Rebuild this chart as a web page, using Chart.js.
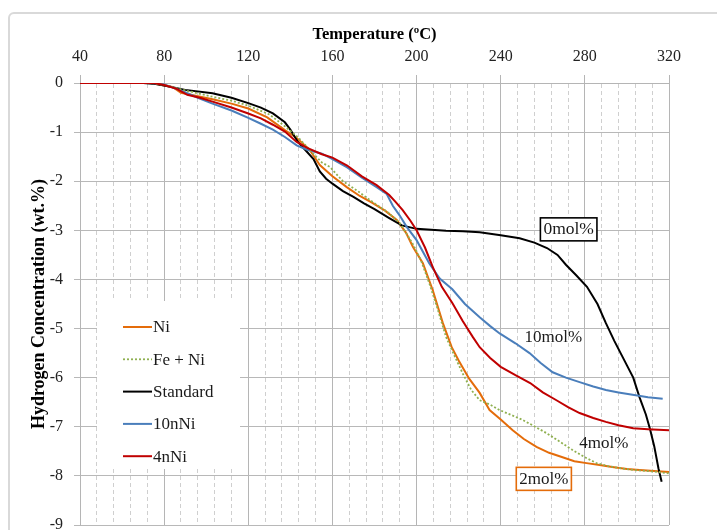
<!DOCTYPE html>
<html>
<head>
<meta charset="utf-8">
<script src="https://cdn.jsdelivr.net/npm/chart.js@4"></script>
<style>
html,body{margin:0;padding:0;background:#fff;}
#wrap{width:717px;height:530px;position:relative;}
</style>
</head>
<body>
<div id="wrap"><canvas id="c" width="717" height="530"></canvas></div>
<script>
// ---- data ----
const seriesNames = ["Ni", "Fe + Ni", "Standard", "10nNi", "4nNi"];

const tempNi = [40, 74, 80, 84, 88, 95, 103, 112, 120, 129, 137.4, 143, 149, 154, 160, 166.8, 173, 179, 185, 190.6, 195, 198.3, 203, 207.7, 212.5, 216.7, 220, 225, 230, 234.7, 240, 245.7, 251, 257, 263, 269.4, 275, 280.8, 287, 293, 300, 306, 313, 320];
const concNi = [0, 0, -0.05, -0.08, -0.2, -0.26, -0.33, -0.42, -0.52, -0.7, -0.96, -1.12, -1.35, -1.67, -1.9, -2.12, -2.3, -2.44, -2.6, -2.79, -3.05, -3.34, -3.67, -4.22, -4.89, -5.38, -5.65, -6.02, -6.31, -6.66, -6.85, -7.07, -7.25, -7.41, -7.53, -7.62, -7.7, -7.74, -7.78, -7.82, -7.86, -7.88, -7.9, -7.92];

const tempFeNi = [40, 74, 80, 90, 103, 112, 120, 130, 137.4, 144, 150, 155, 158.8, 165, 172, 180, 186, 192, 198, 202, 206, 210, 214, 218, 222, 226, 230, 235, 239.5, 245, 250.4, 256, 261.8, 268, 274, 280, 285.5, 291, 296.5, 303, 309.3, 315, 320];
const concFeNi = [0, 0, -0.04, -0.15, -0.28, -0.36, -0.46, -0.64, -0.88, -1.12, -1.4, -1.62, -1.71, -2.0, -2.2, -2.45, -2.62, -2.85, -3.26, -3.6, -4.07, -4.6, -5.17, -5.55, -5.92, -6.25, -6.46, -6.55, -6.66, -6.76, -6.86, -6.99, -7.13, -7.3, -7.47, -7.62, -7.74, -7.8, -7.84, -7.88, -7.9, -7.92, -7.95];

const tempStd = [40, 70, 76, 80, 90, 103, 112, 120, 126, 131.7, 137.4, 140, 143.6, 147, 151, 154, 157, 160, 165, 170, 175, 180, 187, 193, 200, 207, 214, 222, 230, 240, 249, 256, 262, 267, 271, 276, 281, 286, 290, 294, 297, 300, 303, 306, 309, 311, 313, 315, 316.5];
const concStd = [0, 0, -0.02, -0.05, -0.14, -0.21, -0.3, -0.41, -0.5, -0.62, -0.8, -0.95, -1.2, -1.36, -1.55, -1.8, -1.95, -2.05, -2.2, -2.32, -2.45, -2.57, -2.75, -2.9, -2.97, -2.99, -3.01, -3.02, -3.04, -3.1, -3.16, -3.25, -3.36, -3.5, -3.7, -3.92, -4.15, -4.5, -4.89, -5.25, -5.5, -5.75, -6.0, -6.4, -6.75, -7.05, -7.4, -7.85, -8.12];

const temp10nNi = [40, 74, 80, 88, 96, 103, 112, 120, 126, 131.7, 137.4, 143, 148, 155, 160, 167, 174, 181, 185.8, 188.7, 192, 195.3, 200, 206, 211, 217, 223, 230, 235, 239.5, 247, 253.7, 259, 264.7, 271, 277.5, 284, 290, 296, 302.7, 310, 317];
const conc10nNi = [0, 0, -0.03, -0.15, -0.3, -0.42, -0.56, -0.71, -0.83, -0.95, -1.1, -1.27, -1.36, -1.44, -1.55, -1.72, -1.93, -2.12, -2.26, -2.5, -2.7, -2.93, -3.2, -3.67, -3.98, -4.2, -4.5, -4.77, -4.95, -5.1, -5.3, -5.5, -5.7, -5.89, -6.0, -6.09, -6.18, -6.25, -6.3, -6.35, -6.4, -6.43];

const temp4nNi = [40, 75, 80, 86, 91, 97, 103, 112, 120, 126, 131.7, 137.4, 143, 148, 155, 160, 167, 174, 181, 187, 190, 193.4, 197, 200, 204, 207.7, 212, 217, 222, 226.7, 230, 235, 240, 247, 254, 260, 266.5, 272, 277.5, 284, 290, 296, 303, 310, 320];
const conc4nNi = [0, 0, -0.04, -0.12, -0.24, -0.3, -0.38, -0.5, -0.62, -0.72, -0.85, -0.99, -1.2, -1.32, -1.45, -1.52, -1.68, -1.9, -2.08, -2.28, -2.42, -2.59, -2.8, -3.0, -3.35, -3.75, -4.15, -4.48, -4.85, -5.17, -5.38, -5.6, -5.78, -5.95, -6.11, -6.3, -6.46, -6.6, -6.72, -6.82, -6.9, -6.97, -7.03, -7.05, -7.07];

const xTicksMajor = [40, 80, 120, 160, 200, 240, 280, 320];
const yTicks = [0, -1, -2, -3, -4, -5, -6, -7, -8, -9];

// annotation labels (text, anchor temperature, anchor concentration)
const noteText = ["0mol%", "10mol%", "4mol%", "2mol%"];
const noteTemp = [272.3, 265, 289, 260.5];
const noteConc = [-2.97, -5.17, -7.33, -8.05];

// ---- styling ----
const SERIF = '"Liberation Serif", "Times New Roman", serif';
const colors = ["#E46C0A", "#8FB050", "#000000", "#4A7EBB", "#C00000"];

function pts(xs, ys) { return xs.map((x, i) => ({x: x, y: ys[i]})); }

const datasets = [
  {label: seriesNames[0], data: pts(tempNi, concNi), borderColor: colors[0], borderWidth: 2, order: 5},
  {label: seriesNames[1], data: pts(tempFeNi, concFeNi), borderColor: colors[1], borderWidth: 1.8, borderDash: [2, 2], order: 2},
  {label: seriesNames[2], data: pts(tempStd, concStd), borderColor: colors[2], borderWidth: 2, order: 4},
  {label: seriesNames[3], data: pts(temp10nNi, conc10nNi), borderColor: colors[3], borderWidth: 2, order: 3},
  {label: seriesNames[4], data: pts(temp4nNi, conc4nNi), borderColor: colors[4], borderWidth: 2, order: 1}
];
datasets.forEach(d => { d.pointRadius = 0; d.tension = 0; d.fill = false; d.backgroundColor = d.borderColor; });

const isMajor = v => xTicksMajor.indexOf(Math.round(v)) >= 0;

const framePlugin = {
  id: 'frame',
  beforeDraw(chart) {
    const ctx = chart.ctx;
    ctx.save();
    ctx.fillStyle = '#fff';
    ctx.fillRect(0, 0, chart.width, chart.height);
    ctx.strokeStyle = '#d9d9d9';
    ctx.lineWidth = 2;
    ctx.beginPath();
    ctx.moveTo(9, 540); ctx.lineTo(9, 18);
    ctx.arcTo(9, 13, 14, 13, 5);
    ctx.lineTo(730, 13);
    ctx.stroke();
    ctx.restore();
  }
};

const legendBoxPlugin = {
  id: 'legendBox',
  beforeDatasetsDraw(chart) {
    const ctx = chart.ctx;
    const x0 = 97, y0 = 301, w = 143, h = 168;
    ctx.save();
    ctx.fillStyle = '#fff';
    ctx.fillRect(x0, y0, w, h);
    ctx.font = '17px ' + SERIF;
    ctx.textBaseline = 'middle';
    ctx.textAlign = 'left';
    chart.data.datasets.forEach((d, i) => {
      const y = 327 + i * 32.3;
      ctx.strokeStyle = d.borderColor;
      ctx.lineWidth = d.borderWidth;
      ctx.setLineDash(d.borderDash || []);
      ctx.beginPath();
      ctx.moveTo(123, y); ctx.lineTo(152, y);
      ctx.stroke();
      ctx.setLineDash([]);
      ctx.fillStyle = '#1a1a1a';
      ctx.fillText(d.label, 153, y + 1);
    });
    ctx.restore();
  }
};

const notesPlugin = {
  id: 'notes',
  afterDatasetsDraw(chart) {
    const ctx = chart.ctx;
    const xs = chart.scales.x, ys = chart.scales.y;
    ctx.save();
    noteText.forEach((t, i) => {
      const cx = xs.getPixelForValue(noteTemp[i]);
      const cy = ys.getPixelForValue(noteConc[i]);
      ctx.font = (i === 0 ? '17.5px ' : '17px ') + SERIF;
      const tw = ctx.measureText(t).width;
      if (i === 0 || i === 3) {
        const bx = cx - tw / 2 - 3, by = cy - 11, bw = tw + 6, bh = 23;
        ctx.fillStyle = '#fff';
        ctx.fillRect(bx, by, bw, bh);
        ctx.strokeStyle = i === 0 ? '#000' : '#E46C0A';
        ctx.lineWidth = 1.6;
        ctx.strokeRect(bx, by, bw, bh);
      }
      ctx.fillStyle = '#1a1a1a';
      ctx.textAlign = 'center';
      ctx.textBaseline = 'middle';
      ctx.fillText(t, cx, cy + 1);
    });
    ctx.restore();
  }
};

new Chart(document.getElementById('c'), {
  type: 'line',
  data: {datasets: datasets},
  plugins: [framePlugin, legendBoxPlugin, notesPlugin],
  options: {
    responsive: false,
    animation: false,
    devicePixelRatio: 1,
    layout: {padding: {left: 0, right: 48, top: 13, bottom: 5}},
    plugins: {legend: {display: false}, tooltip: {enabled: false}, title: {display: false}},
    scales: {
      x: {
        type: 'linear',
        position: 'top',
        min: 40, max: 320,
        afterFit(s) { s.height = 70; },
        title: {display: true, text: 'Temperature (ºC)', color: '#000',
                font: {family: SERIF, size: 16.5, weight: 'bold'}, padding: {top: 12, bottom: 0}},
        ticks: {
          stepSize: 8, autoSkip: false, maxRotation: 0, color: '#222', padding: 9,
          font: {family: SERIF, size: 16},
          callback: v => isMajor(v) ? String(v) : ''
        },
        grid: {
          color: c => (c.tick && !isMajor(c.tick.value)) ? '#cfcfcf' : '#b5b5b5',
          lineWidth: 1,
          tickLength: 8,
          tickColor: c => (c.tick && !isMajor(c.tick.value)) ? 'rgba(0,0,0,0)' : '#b5b5b5'
        },
        border: {
          display: true, color: '#b5b5b5',
          dash: c => (c.tick && !isMajor(c.tick.value)) ? [4, 3] : []
        }
      },
      y: {
        type: 'linear',
        min: -9, max: 0,
        afterFit(s) { s.width = 80; s.paddingTop = 0; s.paddingBottom = 0; },
        afterBuildTicks(s) { s.ticks = yTicks.map(v => ({value: v})); },
        title: {display: true, text: 'Hydrogen Concentration (wt.%)', color: '#000',
                font: {family: SERIF, size: 18, weight: 'bold'}, padding: {top: 29, bottom: 0}},
        ticks: {stepSize: 1, color: '#222', padding: 11, font: {family: SERIF, size: 16}},
        grid: {color: '#b8b8b8', lineWidth: 1, tickLength: 6, tickColor: '#b8b8b8'},
        border: {display: true, color: '#b5b5b5'}
      }
    }
  }
});
</script>
</body>
</html>
